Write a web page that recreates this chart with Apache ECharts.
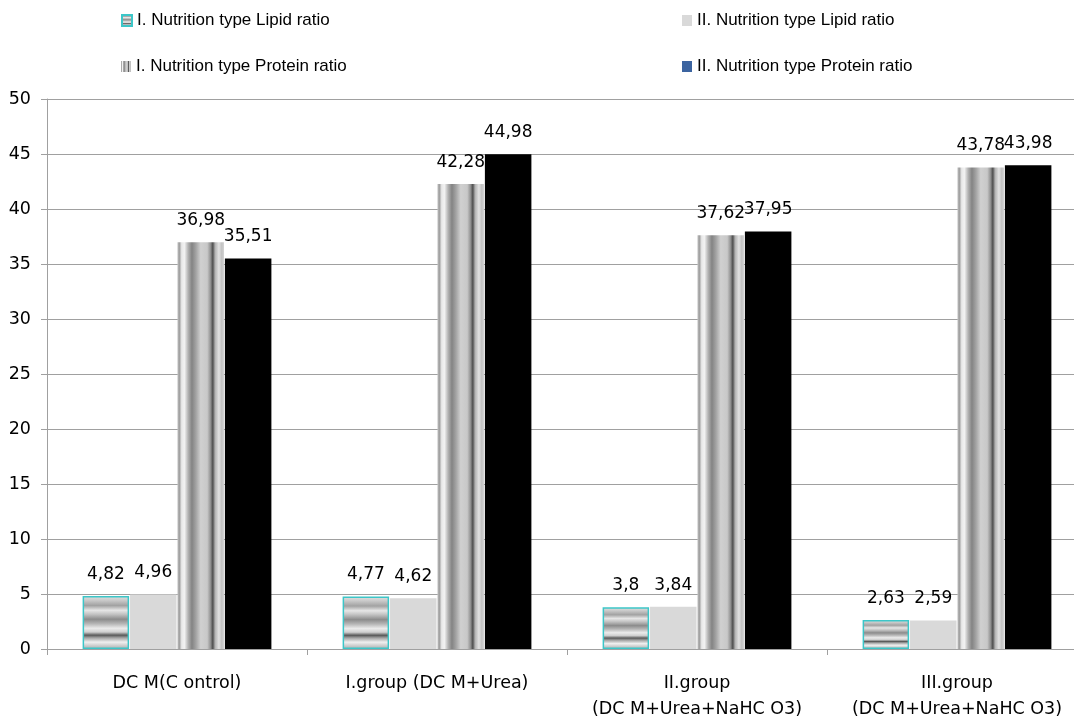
<!DOCTYPE html>
<html><head><meta charset="utf-8">
<script src="https://cdn.jsdelivr.net/npm/echarts@6/dist/echarts.min.js"></script>
<style>html,body{margin:0;padding:0;background:#fff}#c{width:1074px;height:719px}</style>
</head><body><div id="c"></div>
<script>
const categories = ['DC M(C ontrol)', 'I.group (DC M+Urea)', 'II.group\n(DC M+Urea+NaHC O3)', 'III.group\n(DC M+Urea+NaHC O3)'];
const seriesNames = ['I. Nutrition type Lipid ratio', 'II. Nutrition type Lipid ratio', 'I. Nutrition type Protein ratio', 'II. Nutrition type Protein ratio'];
const lipidI = [4.82, 4.77, 3.8, 2.63];
const lipidII = [4.96, 4.62, 3.84, 2.59];
const proteinI = [36.98, 42.28, 37.62, 43.78];
const proteinII = [35.51, 44.98, 37.95, 43.98];
const yMin = 0, yMax = 50, yStep = 5;

const G = echarts.graphic.LinearGradient;
const hStripes = new G(0, 0, 0, 1, [
  {offset: 0, color: '#e2e2e2'}, {offset: 0.08, color: '#cacaca'}, {offset: 0.18, color: '#a2a2a2'},
  {offset: 0.27, color: '#e6e6e6'}, {offset: 0.35, color: '#c0c0c0'}, {offset: 0.44, color: '#8c8c8c'},
  {offset: 0.52, color: '#b4b4b4'}, {offset: 0.61, color: '#ebebeb'}, {offset: 0.68, color: '#cfcfcf'},
  {offset: 0.74, color: '#5a5a5a'}, {offset: 0.79, color: '#a4a4a4'}, {offset: 0.87, color: '#f0f0f0'},
  {offset: 0.95, color: '#c6c6c6'}, {offset: 1, color: '#b2b2b2'}
]);
const vStripes = new G(0, 0, 1, 0, [
  {offset: 0, color: '#c4c4c4'}, {offset: 0.04, color: '#9c9c9c'}, {offset: 0.09, color: '#e8e8e8'},
  {offset: 0.15, color: '#f2f2f2'}, {offset: 0.23, color: '#b2b2b2'}, {offset: 0.31, color: '#838383'},
  {offset: 0.40, color: '#a4a4a4'}, {offset: 0.50, color: '#d0d0d0'}, {offset: 0.64, color: '#c8c8c8'},
  {offset: 0.71, color: '#929292'}, {offset: 0.76, color: '#4e4e4e'}, {offset: 0.81, color: '#b2b2b2'},
  {offset: 0.89, color: '#e2e2e2'}, {offset: 0.95, color: '#c2c2c2'}, {offset: 1, color: '#d2d2d2'}
]);

const fmt = p => String(p.value).replace('.', ',');
const lbl = {show: true, position: 'top', distance: 13, color: '#000', fontFamily: 'DejaVu Sans', fontSize: 17, formatter: fmt};
const legendText = {color: '#000', fontFamily: 'Liberation Sans', fontSize: 17};
function lg(name, left, top, extra) {
  return {data: [extra ? Object.assign({name}, extra) : name], left, top, itemWidth: 10, itemHeight: 11,
    icon: 'rect', itemGap: 0, textStyle: legendText, selectedMode: false, padding: 0};
}

const chart = echarts.init(document.getElementById('c'), null, {renderer: 'canvas'});
chart.setOption({
  animation: false,
  backgroundColor: '#fff',
  legend: [
    lg(seriesNames[0], 121, 12),
    lg(seriesNames[1], 682, 12),
    lg(seriesNames[2], 121, 58),
    lg(seriesNames[3], 682, 58, {itemStyle: {color: '#3c64a0'}})
  ],
  grid: {left: 47, right: -13, top: 99, bottom: 70, containLabel: false, outerBoundsMode: 'none'},
  xAxis: {
    type: 'category', data: categories,
    axisLine: {lineStyle: {color: '#a0a0a0', width: 1}},
    axisTick: {show: true, length: 6, lineStyle: {color: '#a0a0a0'}},
    axisLabel: {color: '#000', fontFamily: 'DejaVu Sans', fontSize: 17.5, lineHeight: 26, margin: 21.5, interval: 0}
  },
  yAxis: {
    type: 'value', min: yMin, max: yMax, interval: yStep,
    axisLine: {show: true, lineStyle: {color: '#a0a0a0'}},
    axisTick: {show: true, length: 6, lineStyle: {color: '#a0a0a0'}},
    splitLine: {lineStyle: {color: '#a0a0a0', width: 1}},
    axisLabel: {color: '#000', fontFamily: 'DejaVu Sans', fontSize: 17.5, margin: 16}
  },
  series: [
    {name: seriesNames[0], type: 'bar', data: lipidI, barWidth: 46.5, barGap: '2%',
     itemStyle: {color: hStripes, borderColor: '#3cc6c8', borderWidth: 1.5}, label: lbl},
    {name: seriesNames[1], type: 'bar', data: lipidII, barWidth: 46.5, barGap: '2%',
     itemStyle: {color: '#d9d9d9'}, label: lbl},
    {name: seriesNames[2], type: 'bar', data: proteinI, barWidth: 46.5, barGap: '2%',
     itemStyle: {color: vStripes}, label: lbl},
    {name: seriesNames[3], type: 'bar', data: proteinII, barWidth: 46.5, barGap: '2%',
     itemStyle: {color: '#000000'}, label: lbl}
  ]
});
</script></body></html>
